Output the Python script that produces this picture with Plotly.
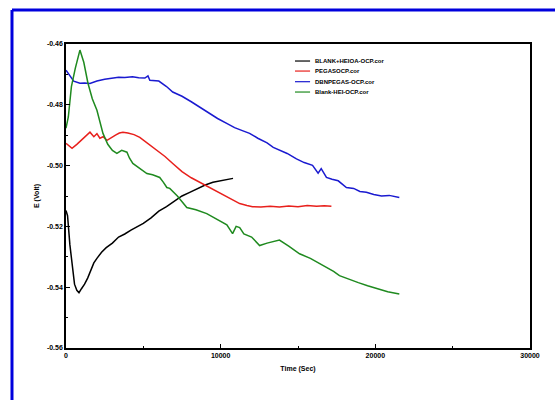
import plotly.graph_objects as go

# ---- data ----
black_t = [0, 100, 250, 400, 550, 700, 840, 1000, 1200, 1400, 1600, 1800, 2000, 2300, 2600, 3000, 3400,
           3800, 4200, 4600, 5000, 5500, 6000, 6500, 7000, 7500, 8000, 8500, 9000, 9500, 10000, 10400, 10800]
black_v = [-0.5148, -0.5165, -0.5260, -0.5330, -0.5390, -0.5410, -0.5418, -0.5405, -0.5390, -0.5370, -0.5345,
           -0.5320, -0.5305, -0.5285, -0.5270, -0.5255, -0.5235, -0.5225, -0.5212, -0.5200, -0.5190, -0.5172,
           -0.5150, -0.5135, -0.5118, -0.5100, -0.5088, -0.5075, -0.5064, -0.5055, -0.5050, -0.5045, -0.5042]

red_t = [0, 200, 390, 700, 1000, 1300, 1550, 1800, 2000, 2190, 2400, 2650, 2900, 3200, 3450, 3680, 4000,
         4400, 4770, 5300, 5870, 6400, 6900, 7500, 8100, 8650, 9300, 9940, 10600, 11230, 11700, 12060, 12600,
         13200, 13800, 14400, 15000, 15600, 16200, 16700, 17160]
red_v = [-0.4927, -0.4935, -0.4943, -0.4930, -0.4915, -0.4900, -0.4890, -0.4905, -0.4895, -0.4910, -0.4905,
         -0.4917, -0.4908, -0.4900, -0.4893, -0.4890, -0.4893, -0.4898, -0.4907, -0.4928, -0.4950, -0.4970,
         -0.4993, -0.5020, -0.5040, -0.5055, -0.5075, -0.5092, -0.5110, -0.5125, -0.5131, -0.5135, -0.5136,
         -0.5134, -0.5136, -0.5133, -0.5135, -0.5131, -0.5134, -0.5132, -0.5134]

blue_t = [0, 200, 500, 900, 1200, 1550, 2000, 2500, 3000, 3400, 3800, 4300, 4700, 5100, 5300, 5420, 6000,
          6500, 6900, 7500, 8100, 8650, 9200, 9800, 10390, 10900, 11400, 11870, 12400, 13000, 13400, 13800,
          14300, 14900, 15400, 15940, 16300, 16500, 16840, 17200, 17600, 18130, 18600, 19000, 19420, 19900,
          20400, 20900, 21550]
blue_v = [-0.4686, -0.4700, -0.4722, -0.4729, -0.4728, -0.4730, -0.4722, -0.4716, -0.4712, -0.4709, -0.4710,
          -0.4708, -0.4711, -0.4712, -0.4705, -0.4719, -0.4722, -0.4740, -0.4758, -0.4772, -0.4790, -0.4808,
          -0.4825, -0.4845, -0.4861, -0.4875, -0.4885, -0.4894, -0.4910, -0.4925, -0.4940, -0.4950, -0.4960,
          -0.4978, -0.4990, -0.4999, -0.5025, -0.5010, -0.5039, -0.5045, -0.5050, -0.5072, -0.5075, -0.5085,
          -0.5088, -0.5095, -0.5100, -0.5098, -0.5105]

green_t = [0, 150, 350, 600, 900, 1150, 1420, 1700, 2000, 2200, 2390, 2700, 3000, 3290, 3600, 3940, 4100,
           4320, 4800, 5230, 5600, 6060, 6300, 6520, 6710, 7200, 7810, 8400, 9100, 9500, 9940, 10400, 10770,
           11000, 11230, 11500, 12000, 12520, 13000, 13400, 13800, 14400, 15100, 15800, 16400, 16840, 17300,
           17680, 18300, 18900, 19500, 20100, 20800, 21550]
green_v = [-0.4877, -0.4840, -0.4740, -0.4680, -0.4620, -0.4660, -0.4729, -0.4780, -0.4818, -0.4860, -0.4894,
           -0.4930, -0.4950, -0.4960, -0.4950, -0.4956, -0.4975, -0.4993, -0.5010, -0.5026, -0.5030, -0.5039,
           -0.5055, -0.5072, -0.5075, -0.5100, -0.5138, -0.5145, -0.5158, -0.5170, -0.5181, -0.5195, -0.5224,
           -0.5200, -0.5204, -0.5225, -0.5235, -0.5263, -0.5255, -0.5250, -0.5245, -0.5265, -0.5290, -0.5305,
           -0.5322, -0.5336, -0.5348, -0.5362, -0.5375, -0.5385, -0.5395, -0.5405, -0.5415, -0.5422]

names = ["BLANK+HEIOA-OCP.cor", "PEGASOCP.cor", "DBNPEGAS-OCP.cor", "Blank-HEI-OCP.cor"]
colors = ["#000000", "#e8201c", "#1a1ad0", "#1f8a1f"]

y_ticks = [-0.46, -0.48, -0.50, -0.52, -0.54, -0.56]
x_ticks = [0, 10000, 20000, 30000]

fig = go.Figure()
for t, v, n, c in zip([black_t, red_t, blue_t, green_t], [black_v, red_v, blue_v, green_v], names, colors):
    fig.add_trace(go.Scatter(x=t, y=v, name=n, mode="lines", line=dict(color=c, width=1.5),
                             showlegend=False))

font = dict(family="Liberation Sans", size=7, color="black", weight="bold")
leg_font = dict(family="Liberation Sans", size=6, color="black", weight="bold")

shapes = [
    dict(type="line", xref="paper", yref="paper", x0=-0.1164, x1=1.2, y0=1.112, y1=1.112,
         line=dict(color="#0000dd", width=3)),
    dict(type="line", xref="paper", yref="paper", x0=-0.1164, x1=-0.1164, y0=1.112, y1=-0.3,
         line=dict(color="#0000dd", width=3)),
]
annotations = []
leg_rows = [0.944, 0.911, 0.876, 0.842]
for yy, n, c in zip(leg_rows, names, colors):
    shapes.append(dict(type="line", xref="paper", yref="paper", x0=0.4935, x1=0.526, y0=yy, y1=yy,
                       line=dict(color=c, width=1.2)))
    annotations.append(dict(xref="paper", yref="paper", x=0.532, y=yy, text=n, showarrow=False,
                            xanchor="left", yanchor="middle", font=leg_font))

fig.update_layout(
    width=555, height=400,
    margin=dict(l=66, r=25, t=44, b=52),
    paper_bgcolor="white", plot_bgcolor="white",
    font=font,
    showlegend=False,
    xaxis=dict(range=[0, 30000], tickvals=x_ticks, ticktext=["0", "10000", "20000", "30000"],
               ticks="inside", ticklen=4, tickcolor="black", showline=True, linecolor="black", linewidth=1.5,
               mirror=True, showgrid=False, zeroline=False,
               minor=dict(dtick=5000, ticks="inside", ticklen=2, tickcolor="black"),
               title=dict(text="Time (Sec)", font=font, standoff=8)),
    yaxis=dict(range=[-0.56, -0.46], tickvals=y_ticks, ticktext=["%.2f" % v for v in y_ticks],
               ticks="inside", ticklen=4, tickcolor="black", showline=True, linecolor="black", linewidth=1.5,
               mirror=True, showgrid=False, zeroline=False,
               minor=dict(dtick=0.01, ticks="inside", ticklen=2, tickcolor="black"),
               title=dict(text="E (Volt)", font=font, standoff=6)),
    shapes=shapes,
    annotations=annotations,
)

fig.write_html("out.html")
